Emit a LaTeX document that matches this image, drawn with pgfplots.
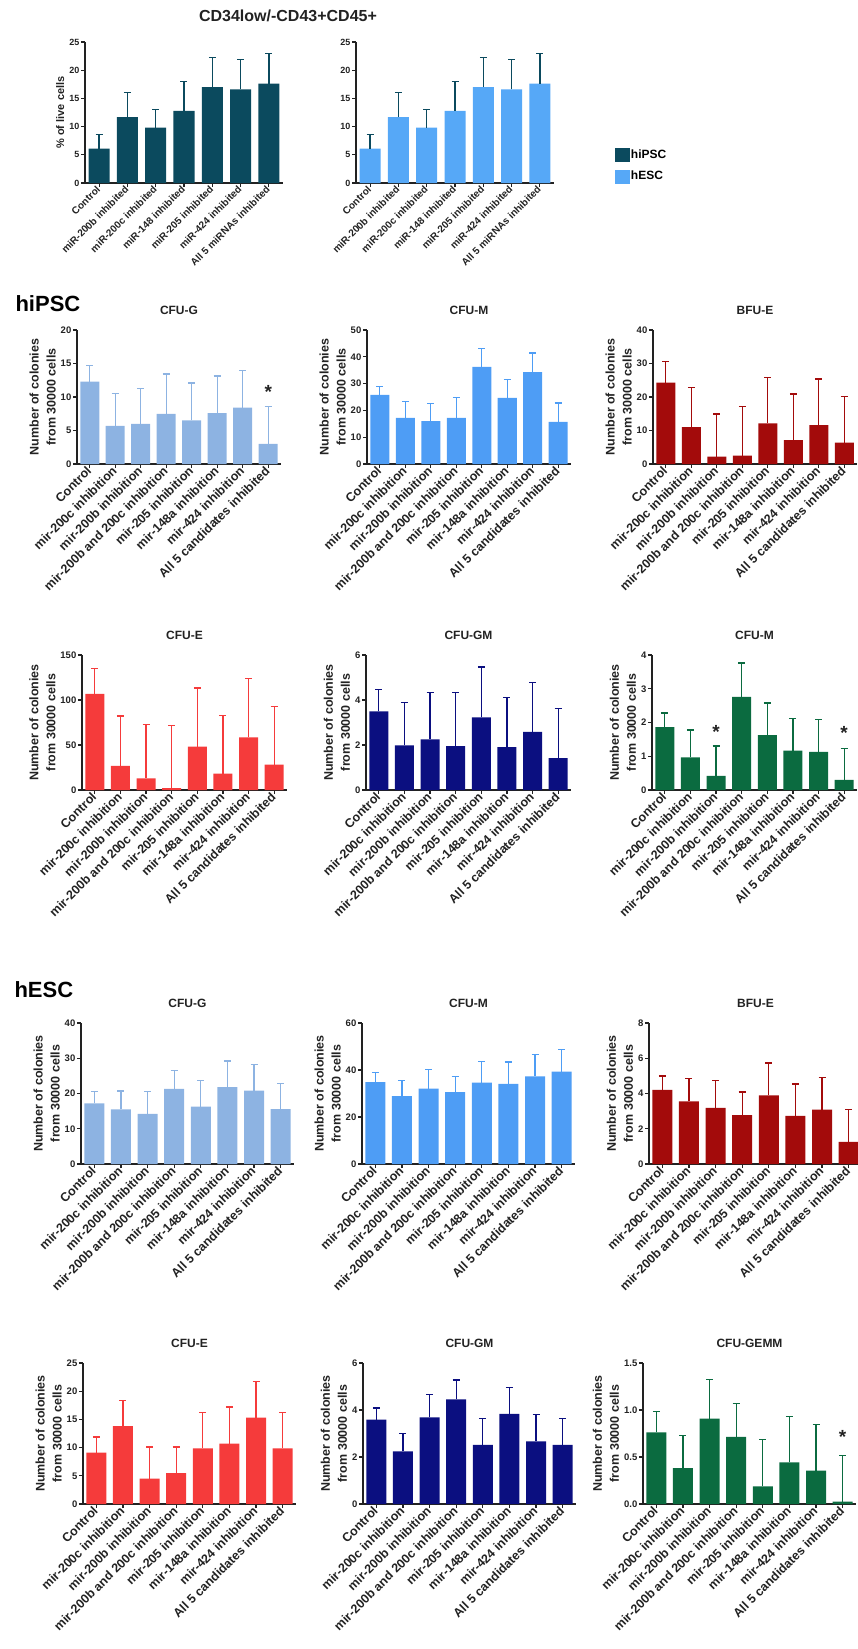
\documentclass[border=0pt]{standalone}
\usepackage{fontspec}
\setmainfont{Liberation Sans}
\usepackage{pgfplots}
\pgfplotsset{compat=1.18}

\definecolor{hipsc}{HTML}{0B4A5E}
\definecolor{hesc}{HTML}{56A8F7}
\definecolor{cfug}{HTML}{8DB3E2}
\definecolor{cfum}{HTML}{4E9DF5}
\definecolor{bfue}{HTML}{A30B0B}
\definecolor{cfue}{HTML}{F53B3B}
\definecolor{cfugm}{HTML}{0B0F80}
\definecolor{cfumg}{HTML}{0B6B40}
\definecolor{ink}{HTML}{222222}

\pgfplotsset{
  prism/.style={
    scale only axis, clip=false,
    axis lines=left,
    axis line style={-, line width=1.3pt, draw=ink},
    ymin=0,
    tick align=outside,
    major tick length=4pt,
    tick style={line width=1.2pt, ink},
    /pgf/number format/assume math mode=true,
    yticklabel style={font=\fontsize{9.5}{10}\selectfont\bfseries, text=ink, inner sep=1.5pt},
    xticklabel style={font=\fontsize{12.5}{13}\selectfont\bfseries, rotate=45, anchor=east, inner sep=1pt, text=ink},
    ylabel style={font=\fontsize{12.5}{17}\selectfont\bfseries, align=center, text=ink},
    title style={font=\fontsize{12}{12}\selectfont\bfseries, anchor=base, at={(0.5,1)}, yshift=10pt, text=ink},
    ylabel={Number of colonies\\from 30000 cells},
  },
  colonyx/.style={xmin=-0.5, xmax=7.5, xtick={0,...,7},
    xticklabels={Control, mir-200c inhibition, mir-200b inhibition, mir-200b and 200c inhibition, mir-205 inhibition, mir-148a inhibition, mir-424 inhibition, All 5 candidates inhibited}},
  topx/.style={xmin=-0.5, xmax=6.5, xtick={0,...,6},
    xticklabels={Control, miR-200b inhibited, miR-200c inhibited, miR-148 inhibited, miR-205 inhibited, miR-424 inhibited, All 5 miRNAs inhibited},
    xticklabel style={font=\fontsize{10}{11}\selectfont\bfseries},
    yticklabel style={font=\fontsize{9}{10}\selectfont\bfseries},
    width=198pt, height=141pt, ymax=25, ytick={0,5,...,25}},
  barplotc/.style 2 args={ybar, bar width=20pt, bar shift=0pt, fill=#1, draw=none,
    error bars/y dir=plus, error bars/y explicit,
    error bars/error bar style={line width=1.3pt, draw=#2},
    error bars/error mark options={rotate=90, mark size=3.5pt, line width=1.3pt, draw=#2}},
  barplot/.style={barplotc={#1}{#1}},
  star/.style={draw=none, mark=none, nodes near coords={\fontsize{19}{19}\selectfont\bfseries *},
    nodes near coords align={center}, every node near coord/.append style={text=ink, yshift=-3pt}},
}

\begin{document}
\begin{tikzpicture}
\useasboundingbox (0pt,0pt) rectangle (857pt,-1649pt);

\node[anchor=base, font=\fontsize{16}{16}\selectfont\bfseries, text=ink] at (288pt,-21pt) {CD34low/-CD43+CD45+};
\node[anchor=base west, font=\fontsize{22}{22}\selectfont\bfseries, text=black] at (12pt,-311pt) {hiPSC};
\node[anchor=base west, font=\fontsize{22}{22}\selectfont\bfseries, text=black] at (11pt,-997pt) {hESC};

% ---------------- top row ----------------
\begin{axis}[prism, topx, at={(85pt,-183pt)}, anchor=south west,
  ylabel={\% of live cells}, ylabel style={font=\fontsize{11}{12}\selectfont\bfseries}]
\addplot[barplot=hipsc, bar width=21pt] table[x=x, y=y, y error plus=e] {
x y e
0 6.1 2.5
1 11.7 4.3
2 9.8 3.2
3 12.8 5.2
4 17.0 5.3
5 16.6 5.3
6 17.6 5.3
};
\end{axis}

\begin{axis}[prism, topx, at={(356pt,-183pt)}, anchor=south west, ylabel={},
  legend style={at={(1.305,0.25)}, anchor=north west, draw=none, fill=none, inner sep=0pt,
    font=\fontsize{12}{14}\selectfont\bfseries, row sep=7pt},
  legend cell align=left]
\addlegendimage{legend image code/.code={\fill[hipsc] (0pt,-6.5pt) rectangle (14pt,6.5pt);}}
\addlegendimage{legend image code/.code={\fill[hesc] (0pt,-6.5pt) rectangle (14pt,6.5pt);}}
\addplot[barplotc={hesc}{hipsc}, bar width=21pt, forget plot] table[x=x, y=y, y error plus=e] {
x y e
0 6.1 2.5
1 11.7 4.3
2 9.8 3.2
3 12.8 5.2
4 17.0 5.3
5 16.6 5.3
6 17.6 5.3
};
\legend{hiPSC, hESC}
\end{axis}

% ---------------- hiPSC row 1 ----------------
\begin{axis}[prism, colonyx, at={(77pt,-464pt)}, anchor=south west, width=204pt, height=134pt,
  ymax=20, ytick={0,5,...,20}, title={CFU-G}]
\addplot[barplot=cfug, bar width=19pt] table[x=x, y=y, y error plus=e] {
x y e
0 12.3 2.4
1 5.7 4.8
2 6.0 5.3
3 7.5 5.95
4 6.5 5.6
5 7.6 5.55
6 8.4 5.55
7 3.0 5.6
};
\addplot[star] coordinates {(7,11.2)};
\end{axis}

\begin{axis}[prism, colonyx, at={(367pt,-464pt)}, anchor=south west, width=204pt, height=134pt,
  ymax=50, ytick={0,10,...,50}, title={CFU-M}]
\addplot[barplot=cfum, bar width=19pt] table[x=x, y=y, y error plus=e] {
x y e
0 25.8 3.1
1 17.2 6.1
2 16.0 6.5
3 17.2 7.5
4 36.2 7.0
5 24.7 6.9
6 34.3 7.1
7 15.7 7.1
};
\end{axis}

\begin{axis}[prism, colonyx, at={(653pt,-464pt)}, anchor=south west, width=204pt, height=134pt,
  ymax=40, ytick={0,10,...,40}, title={BFU-E}]
\addplot[barplot=bfue, bar width=19pt] table[x=x, y=y, y error plus=e] {
x y e
0 24.3 6.2
1 11.0 11.8
2 2.2 12.7
3 2.5 14.6
4 12.1 13.7
5 7.1 13.8
6 11.6 13.8
7 6.4 13.7
};
\end{axis}

% ---------------- hiPSC row 2 ----------------
\begin{axis}[prism, colonyx, at={(82pt,-790pt)}, anchor=south west, width=205pt, height=135pt,
  ymax=150, ytick={0,50,100,150}, title={CFU-E}]
\addplot[barplot=cfue, bar width=19pt] table[x=x, y=y, y error plus=e] {
x y e
0 106.7 28.5
1 26.7 55.5
2 13.0 60.0
3 2.2 69.7
4 48.1 65.2
5 18.1 64.9
6 58.5 65.2
7 28.1 64.9
};
\end{axis}

\begin{axis}[prism, colonyx, at={(366pt,-790pt)}, anchor=south west, width=205pt, height=135pt,
  ymax=6, ytick={0,2,4,6}, title={CFU-GM}]
\addplot[barplot=cfugm, bar width=19pt] table[x=x, y=y, y error plus=e] {
x y e
0 3.50 0.98
1 1.98 1.90
2 2.25 2.08
3 1.95 2.38
4 3.23 2.24
5 1.91 2.21
6 2.58 2.21
7 1.42 2.20
};
\end{axis}

\begin{axis}[prism, colonyx, at={(652pt,-790pt)}, anchor=south west, width=205pt, height=135pt,
  ymax=4, ytick={0,1,2,3,4}, title={CFU-M}]
\addplot[barplot=cfumg, bar width=19pt] table[x=x, y=y, y error plus=e] {
x y e
0 1.86 0.42
1 0.97 0.81
2 0.42 0.88
3 2.76 1.00
4 1.63 0.95
5 1.17 0.95
6 1.13 0.96
7 0.30 0.94
};
\addplot[star] coordinates {(2,1.81) (7,1.78)};
\end{axis}

% ---------------- hESC row 1 ----------------
\begin{axis}[prism, colonyx, at={(81pt,-1164pt)}, anchor=south west, width=213pt, height=141pt,
  ymax=40, ytick={0,10,...,40}, title={CFU-G}]
\addplot[barplot=cfug, bar width=20pt] table[x=x, y=y, y error plus=e] {
x y e
0 17.2 3.3
1 15.5 5.2
2 14.2 6.4
3 21.3 5.3
4 16.3 7.4
5 21.8 7.4
6 20.8 7.4
7 15.6 7.3
};
\end{axis}

\begin{axis}[prism, colonyx, at={(362pt,-1164pt)}, anchor=south west, width=213pt, height=141pt,
  ymax=60, ytick={0,20,40,60}, title={CFU-M}]
\addplot[barplot=cfum, bar width=20pt] table[x=x, y=y, y error plus=e] {
x y e
0 34.9 4.1
1 28.9 6.5
2 32.1 8.0
3 30.6 6.5
4 34.6 9.1
5 34.1 9.3
6 37.3 9.3
7 39.3 9.3
};
\end{axis}

\begin{axis}[prism, colonyx, at={(649pt,-1164pt)}, anchor=south west, width=213pt, height=141pt,
  ymax=8, ytick={0,2,4,6,8}, title={BFU-E}]
\addplot[barplot=bfue, bar width=20pt] table[x=x, y=y, y error plus=e] {
x y e
0 4.20 0.80
1 3.56 1.28
2 3.18 1.57
3 2.77 1.32
4 3.90 1.84
5 2.73 1.81
6 3.09 1.81
7 1.26 1.83
};
\end{axis}

% ---------------- hESC row 2 ----------------
\begin{axis}[prism, colonyx, at={(83pt,-1504pt)}, anchor=south west, width=213pt, height=141pt,
  ymax=25, ytick={0,5,...,25}, title={CFU-E}]
\addplot[barplot=cfue, bar width=20pt] table[x=x, y=y, y error plus=e] {
x y e
0 9.10 2.80
1 13.8 4.5
2 4.5 5.6
3 5.5 4.6
4 9.85 6.35
5 10.7 6.5
6 15.3 6.4
7 9.85 6.35
};
\end{axis}

\begin{axis}[prism, colonyx, at={(363pt,-1504pt)}, anchor=south west, width=213pt, height=141pt,
  ymax=6, ytick={0,2,4,6}, title={CFU-GM}]
\addplot[barplot=cfugm, bar width=20pt] table[x=x, y=y, y error plus=e] {
x y e
0 3.59 0.50
1 2.24 0.77
2 3.69 0.98
3 4.45 0.83
4 2.52 1.13
5 3.84 1.12
6 2.67 1.15
7 2.52 1.13
};
\end{axis}

\begin{axis}[prism, colonyx, at={(643pt,-1504pt)}, anchor=south west, width=213pt, height=141pt,
  ymax=1.5, ytick={0,0.5,1,1.5}, title={CFU-GEMM},
  yticklabel style={/pgf/number format/.cd, fixed, fixed zerofill, precision=1}]
\addplot[barplot=cfumg, bar width=20pt] table[x=x, y=y, y error plus=e] {
x y e
0 0.762 0.220
1 0.383 0.344
2 0.908 0.420
3 0.713 0.358
4 0.188 0.496
5 0.443 0.486
6 0.355 0.492
7 0.025 0.489
};
\addplot[star] coordinates {(7,0.74)};
\end{axis}

\end{tikzpicture}
\end{document}
